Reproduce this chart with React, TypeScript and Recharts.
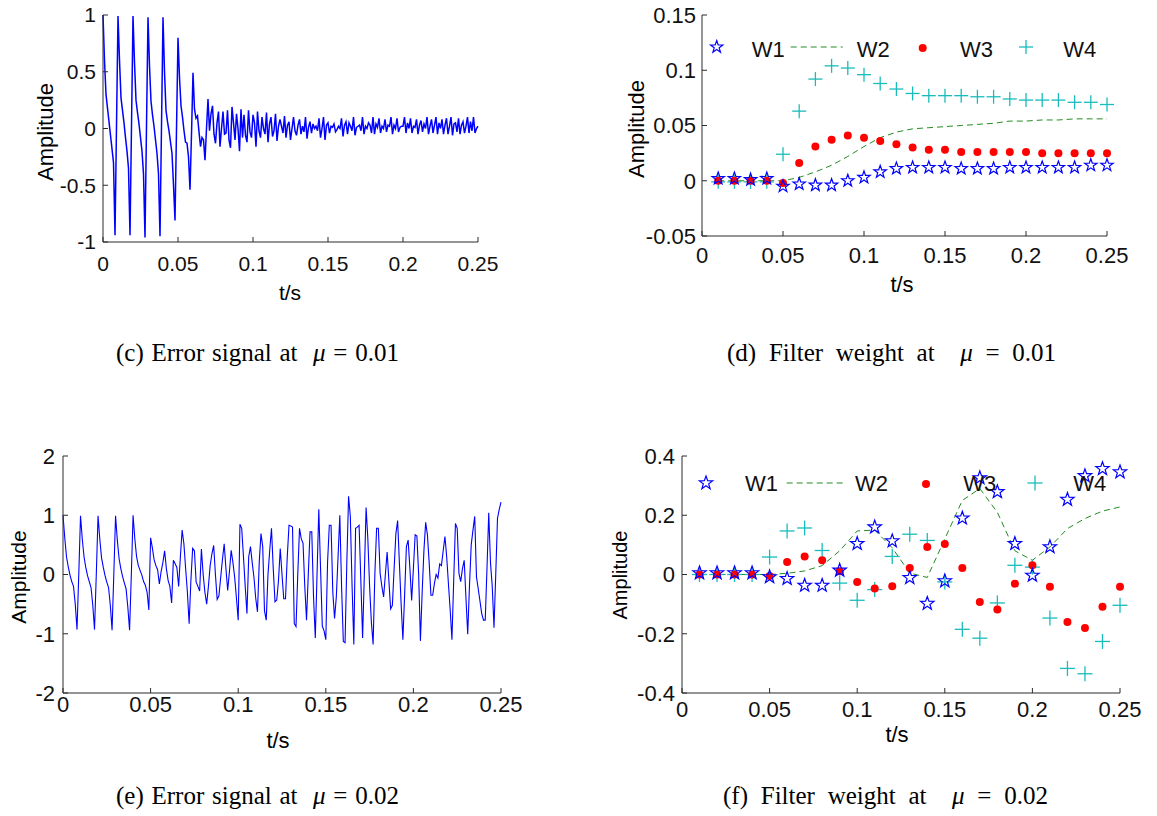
import React from 'react';
import { LineChart, Line, ComposedChart, Scatter, XAxis, YAxis } from 'recharts';

// error signals are sampled at 1 kHz, one value per ms from t = 0 to 0.25 s
const FS = 1000;

// (c) error signal, mu = 0.01
const ERR_C = [
  1.0, 0.6, 0.3, 0.18, 0.06, -0.06, -0.18, -0.3, -0.94, 0.02,
  0.99, 0.6, 0.27, 0.16, 0.05, -0.08, -0.2, -0.35, -0.94, 0.02,
  0.99, 0.58, 0.25, 0.14, 0.04, -0.08, -0.2, -0.4, -0.96, 0.02,
  0.98, 0.55, 0.24, 0.12, 0.02, -0.1, -0.22, -0.4, -0.95, 0.02,
  0.98, 0.5, 0.16, 0.06, -0.02, -0.12, -0.22, -0.5, -0.81, -0.01,
  0.8, 0.45, 0.2, 0.1, -0.02, -0.12, -0.13, -0.25, -0.54, -0.05,
  0.49, 0.17, 0.09, 0.11, -0.03, -0.16, -0.08, -0.1, -0.28, 0.0,
  0.26, -0.02, 0.13, 0.2, -0.05, -0.13, 0.05, 0.15, -0.16, 0.0,
  0.15, -0.05, -0.04, 0.16, -0.1, -0.17, 0.19, 0.05, -0.1, 0.13,
  0.0, -0.2, 0.17, -0.08, 0.12, -0.06, -0.12, 0.16, -0.03, -0.08,
  0.12, 0.05, -0.16, 0.15, -0.02, -0.08, 0.1, 0.0, -0.05, 0.14,
  -0.12, 0.04, 0.1, -0.07, -0.02, 0.13, -0.11, 0.02, 0.08, 0.02,
  -0.04, 0.11, -0.08, 0.03, 0.06, -0.1, 0.0, 0.1, -0.02, -0.06,
  0.03, 0.08, -0.05, 0.02, -0.03, 0.1, -0.09, 0.01, 0.06, -0.04,
  0.04, 0.0, 0.02, -0.02, 0.09, -0.08, 0.0, 0.1, -0.1, 0.03,
  0.05, -0.04, 0.02, 0.01, 0.04, -0.03, -0.01, 0.02, 0.0, 0.09,
  -0.07, 0.03, 0.06, -0.05, 0.05, 0.02, -0.02, 0.1, -0.06, 0.01,
  0.02, 0.03, -0.02, 0.1, -0.05, 0.02, 0.0, 0.05, 0.03, -0.04,
  0.1, -0.05, 0.04, 0.01, 0.09, -0.04, 0.02, 0.0, 0.08, -0.03,
  0.03, 0.02, 0.1, -0.05, 0.03, 0.0, 0.09, -0.03, 0.01, 0.02,
  0.02, 0.1, -0.04, 0.05, 0.0, 0.09, -0.04, 0.02, 0.01, 0.08,
  -0.05, 0.03, 0.07, -0.03, 0.04, 0.0, 0.1, -0.05, 0.02, 0.08,
  -0.04, 0.03, 0.1, -0.05, 0.05, 0.0, 0.08, -0.05, 0.03, 0.09,
  -0.05, 0.02, 0.1, -0.06, 0.04, 0.05, -0.03, 0.09, -0.05, 0.03,
  0.06, -0.04, 0.02, 0.1, -0.04, 0.06, -0.02, 0.1, -0.04, 0.0,
  0.02,
];

// (e) error signal, mu = 0.02
const ERR_E = [
  1.0, 0.62, 0.3, 0.13, -0.01, -0.12, -0.2, -0.5, -0.93, 0.0,
  0.99, 0.6, 0.3, 0.12, -0.02, -0.12, -0.22, -0.52, -0.93, 0.0,
  0.99, 0.6, 0.28, 0.12, -0.02, -0.13, -0.22, -0.52, -0.94, 0.0,
  0.99, 0.58, 0.27, 0.1, -0.03, -0.14, -0.24, -0.55, -0.94, 0.0,
  1.0, 0.6, 0.3, 0.15, 0.07, -0.01, -0.12, -0.18, -0.3, -0.6,
  0.62, 0.45, 0.25, 0.15, 0.08, -0.16, 0.05, 0.2, 0.4, 0.1,
  -0.1, -0.2, -0.48, 0.24, 0.18, 0.12, -0.2, 0.3, 0.75, 0.52,
  0.1, -0.3, -0.83, -0.1, 0.44, 0.4, -0.13, -0.2, -0.28, 0.43,
  0.0, -0.3, -0.5, -0.2, 0.15, 0.35, 0.49, 0.0, -0.42, -0.36,
  -0.05, 0.25, 0.52, 0.1, -0.27, 0.05, 0.41, 0.2, -0.05, -0.4,
  -0.77, 0.85, 0.78, 0.3, -0.2, -0.66, 0.3, 0.47, 0.2, -0.05,
  -0.4, -0.63, 0.2, 0.69, 0.47, -0.61, -0.77, 0.0, 0.41, 0.78,
  0.1, -0.46, -0.43, -0.1, 0.44, 0.0, -0.41, -0.41, 0.3, 0.83,
  0.82, 0.8, -0.83, -0.88, 0.0, 0.78, 0.6, 0.53, -0.2, -0.77,
  0.0, 0.72, 0.72, -0.38, -1.07, 0.0, 1.1, 0.1, -0.87, -0.95,
  -1.1, 0.2, 0.83, 0.83, -0.3, -0.74, -0.38, 0.3, 1.0, -0.2,
  -1.13, -1.15, 0.2, 1.32, 0.98, -0.2, -1.18, 0.78, 0.8, 0.83,
  -0.1, -1.07, 0.0, 1.13, 0.6, -0.2, -0.8, -1.18, 0.0, 0.78,
  0.78, 0.02, -0.2, -0.38, 0.0, 0.38, -0.1, -0.58, -0.52, 0.1,
  0.69, 0.91, 0.2, -0.5, -1.1, -0.34, 0.47, 0.58, 0.1, -0.44,
  0.1, 0.67, 0.65, 0.0, -1.12, -0.3, 0.4, 0.88, 0.67, 0.2,
  -0.35, -0.35, -0.15, 0.0, -0.06, 0.18, 0.15, 0.4, 0.64, 0.3,
  -0.16, -0.6, -1.1, -0.1, 0.86, 0.78, 0.02, -0.12, 0.1, 0.24,
  -0.4, -1.01, -0.2, 0.5, 0.75, 0.98, -0.04, -0.24, -0.45, -0.66,
  -0.77, -0.77, 0.1, 1.04, 0.2, -0.2, -0.9, 0.0, 0.95, 1.1,
  1.22,
];

// filter weights, one value every 10 ms
const W_TIMES = [
  0.01, 0.02, 0.03, 0.04, 0.05, 0.06, 0.07, 0.08, 0.09, 0.1,
  0.11, 0.12, 0.13, 0.14, 0.15, 0.16, 0.17, 0.18, 0.19, 0.2,
  0.21, 0.22, 0.23, 0.24, 0.25,
];

// (d) mu = 0.01
const W1_D = [0.002, 0.002, 0.001, 0.002, -0.005, -0.003, -0.004, -0.004, 0.0, 0.003, 0.008, 0.011, 0.012, 0.012, 0.012, 0.011, 0.011, 0.011, 0.012, 0.012, 0.012, 0.012, 0.012, 0.014, 0.014];
const W2_D = [0, 0, 0, 0, 0, 0.003, 0.008, 0.014, 0.022, 0.031, 0.039, 0.044, 0.047, 0.048, 0.049, 0.05, 0.051, 0.052, 0.054, 0.054, 0.055, 0.055, 0.056, 0.056, 0.056];
const W3_D = [0, 0, 0, 0, -0.002, 0.016, 0.031, 0.037, 0.041, 0.039, 0.036, 0.033, 0.03, 0.028, 0.028, 0.026, 0.026, 0.026, 0.026, 0.026, 0.025, 0.025, 0.025, 0.025, 0.025];
const W4_D = [-0.001, -0.001, -0.001, -0.001, 0.024, 0.063, 0.092, 0.104, 0.102, 0.096, 0.088, 0.083, 0.079, 0.077, 0.077, 0.077, 0.076, 0.076, 0.074, 0.073, 0.073, 0.073, 0.071, 0.071, 0.069];

// (f) mu = 0.02
const W1_F = [0.005, 0.005, 0.005, 0.005, -0.008, -0.014, -0.037, -0.037, 0.014, 0.104, 0.16, 0.113, -0.011, -0.098, -0.022, 0.19, 0.326, 0.279, 0.104, -0.003, 0.093, 0.253, 0.333, 0.357, 0.346];
const W2_F = [0, 0, 0, 0, 0, 0.004, 0.012, 0.03, 0.08, 0.147, 0.15, 0.09, 0.005, -0.01, 0.12, 0.25, 0.29, 0.21, 0.08, 0.048, 0.093, 0.155, 0.189, 0.214, 0.228];
const W3_F = [0, 0, 0, 0, -0.005, 0.042, 0.061, 0.048, 0.011, -0.025, -0.047, -0.04, 0.022, 0.093, 0.103, 0.022, -0.093, -0.118, -0.031, 0.031, -0.041, -0.16, -0.181, -0.109, -0.041];
const W4_F = [0, 0, 0, 0, 0.059, 0.147, 0.157, 0.081, -0.029, -0.087, -0.051, 0.061, 0.136, 0.115, -0.025, -0.185, -0.215, -0.096, 0.031, 0.025, -0.147, -0.317, -0.335, -0.226, -0.104];

const T_TICKS = [0, 0.05, 0.1, 0.15, 0.2, 0.25];
const Y_TICKS_C = [-1, -0.5, 0, 0.5, 1];
const Y_TICKS_D = [-0.05, 0, 0.05, 0.1, 0.15];
const Y_TICKS_E = [-2, -1, 0, 1, 2];
const Y_TICKS_F = [-0.4, -0.2, 0, 0.2, 0.4];

const AXIS = '#2b2b2b';
const NARROW = "'Liberation Sans Narrow', 'Liberation Sans', Arial, sans-serif";
const SANS = "'Liberation Sans', Arial, sans-serif";
const SERIF = "'Liberation Serif', 'Times New Roman', serif";
const BLUE = '#0000ff';
const GREEN = '#228b22';
const RED = '#ff0000';
const CYAN = '#19bcbc';

const fmt = (v: number) => String(v);

const starPoints = (cx: number, cy: number, R: number) => {
  const pts: string[] = [];
  for (let i = 0; i < 10; i++) {
    const a = -Math.PI / 2 + (i * Math.PI) / 5;
    const rr = i % 2 === 0 ? R : R * 0.4;
    pts.push(`${cx + rr * Math.cos(a)},${cy + rr * Math.sin(a)}`);
  }
  return pts.join(' ');
};

const Star = ({ cx, cy, R }: any) => (
  <polygon points={starPoints(cx, cy, R)} fill="none" stroke={BLUE} strokeWidth={1.2} />
);
const Plus = ({ cx, cy, R }: any) => (
  <g stroke={CYAN} strokeWidth={1.3}>
    <line x1={cx - R} y1={cy} x2={cx + R} y2={cy} />
    <line x1={cx} y1={cy - R} x2={cx} y2={cy + R} />
  </g>
);
const Dot = ({ cx, cy, R }: any) => <circle cx={cx} cy={cy} r={R} fill={RED} />;

type Box = { x: number; y: number; w: number; h: number; mt: number; mr: number; yw: number; xh: number };

function axes(box: Box, yTicks: number[], font: number, xMargin: number, yMargin: number) {
  const tick = { fontSize: font, fontFamily: NARROW, fill: '#111' };
  return [
    <XAxis key="x" type="number" dataKey="t" domain={[0, 0.25]} ticks={T_TICKS} interval={0}
      tickSize={-5} tickMargin={xMargin} height={box.xh} stroke={AXIS} tick={tick} tickFormatter={fmt} />,
    <YAxis key="y" type="number" dataKey="v" domain={[yTicks[0], yTicks[yTicks.length - 1]]} ticks={yTicks} interval={0}
      tickSize={-5} tickMargin={yMargin} width={box.yw} stroke={AXIS} tick={tick} tickFormatter={fmt} />,
  ];
}

function SignalPanel({ box, values, yTicks, font, xMargin, yMargin, lineWidth }: any) {
  const data = values.map((v: number, i: number) => ({ t: i / FS, v }));
  return (
    <div style={{ position: 'absolute', left: box.x, top: box.y }}>
      <LineChart width={box.w} height={box.h} data={data} margin={{ top: box.mt, right: box.mr, bottom: 0, left: 0 }}>
        {axes(box, yTicks, font, xMargin, yMargin)}
        <Line type="linear" dataKey="v" stroke={BLUE} strokeWidth={lineWidth} dot={false} isAnimationActive={false} />
      </LineChart>
    </div>
  );
}

function WeightPanel({ box, w1, w2, w3, w4, yTicks, font, xMargin, yMargin, star, plus, dot }: any) {
  const pts = (arr: number[]) => W_TIMES.map((t, i) => ({ t, v: arr[i] }));
  return (
    <div style={{ position: 'absolute', left: box.x, top: box.y }}>
      <ComposedChart width={box.w} height={box.h} margin={{ top: box.mt, right: box.mr, bottom: 0, left: 0 }}>
        {axes(box, yTicks, font, xMargin, yMargin)}
        <Line data={pts(w2)} type="linear" dataKey="v" stroke={GREEN} strokeWidth={1} strokeDasharray="6 4"
          dot={false} isAnimationActive={false} />
        <Scatter data={pts(w4)} dataKey="v" isAnimationActive={false} shape={(p: any) => <Plus cx={p.cx} cy={p.cy} R={plus} />} />
        <Scatter data={pts(w3)} dataKey="v" isAnimationActive={false} shape={(p: any) => <Dot cx={p.cx} cy={p.cy} R={dot} />} />
        <Scatter data={pts(w1)} dataKey="v" isAnimationActive={false} shape={(p: any) => <Star cx={p.cx} cy={p.cy} R={star} />} />
      </ComposedChart>
    </div>
  );
}

function LegendRow({ y, base, star, dash, w2, dot, w3, plus, w4, w1, font, R }: any) {
  const txt = { fontSize: font, fontFamily: NARROW, fill: '#111' };
  return (
    <g>
      <Star cx={star} cy={y} R={R.star} />
      <text x={w1} y={base} {...txt}>W1</text>
      <line x1={dash[0]} y1={y} x2={dash[1]} y2={y} stroke={GREEN} strokeWidth={1} strokeDasharray="6 4" />
      <text x={w2} y={base} {...txt}>W2</text>
      <Dot cx={dot} cy={y + 1} R={R.dot} />
      <text x={w3} y={base} {...txt}>W3</text>
      <Plus cx={plus} cy={y} R={R.plus} />
      <text x={w4} y={base} {...txt}>W4</text>
    </g>
  );
}

function Caption({ x, y, head, mu, gap }: any) {
  return (
    <text x={x} y={y} fontSize={25} fontFamily={SERIF} fill="#000" style={{ wordSpacing: gap }}>
      {head}{'\u00a0 '}<tspan fontStyle="italic">μ</tspan>{` = ${mu}`}
    </text>
  );
}

const BOX_C: Box = { x: 0, y: 0, w: 520, h: 300, mt: 15, mr: 42, yw: 103, xh: 58 };
const BOX_D: Box = { x: 600, y: 0, w: 550, h: 300, mt: 15, mr: 43, yw: 102, xh: 64 };
const BOX_E: Box = { x: 0, y: 440, w: 540, h: 320, mt: 16, mr: 39, yw: 63, xh: 67 };
const BOX_F: Box = { x: 600, y: 440, w: 557, h: 320, mt: 16, mr: 37, yw: 82, xh: 67 };

export default function App() {
  return (
    <div style={{ position: 'absolute', left: 0, top: 0, width: 1157, height: 816, background: '#fff', overflow: 'hidden' }}>
      <SignalPanel box={BOX_C} values={ERR_C} yTicks={Y_TICKS_C} font={21} xMargin={19} yMargin={12} lineWidth={1.5} />
      <WeightPanel box={BOX_D} w1={W1_D} w2={W2_D} w3={W3_D} w4={W4_D} yTicks={Y_TICKS_D} font={22}
        xMargin={16} yMargin={11} star={6.5} plus={7} dot={4} />
      <SignalPanel box={BOX_E} values={ERR_E} yTicks={Y_TICKS_E} font={22} xMargin={8} yMargin={13} lineWidth={1.1} />
      <WeightPanel box={BOX_F} w1={W1_F} w2={W2_F} w3={W3_F} w4={W4_F} yTicks={Y_TICKS_F} font={22}
        xMargin={13} yMargin={12} star={7} plus={7.5} dot={4} />

      <svg width={1157} height={816} style={{ position: 'absolute', left: 0, top: 0, pointerEvents: 'none' }}>
        {/* axis titles */}
        <text x={290} y={300} textAnchor="middle" fontSize={21} fontFamily={NARROW}>t/s</text>
        <text x={902} y={292} textAnchor="middle" fontSize={22} fontFamily={NARROW}>t/s</text>
        <text x={278} y={748} textAnchor="middle" fontSize={22} fontFamily={NARROW}>t/s</text>
        <text x={897} y={742} textAnchor="middle" fontSize={22} fontFamily={NARROW}>t/s</text>
        <text transform="translate(53,132) rotate(-90)" textAnchor="middle" fontSize={22} fontFamily={SANS}>Amplitude</text>
        <text transform="translate(644,129) rotate(-90)" textAnchor="middle" fontSize={22} fontFamily={SANS}>Amplitude</text>
        <text transform="translate(26,577) rotate(-90)" textAnchor="middle" fontSize={21} fontFamily={SANS}>Amplitude</text>
        <text transform="translate(627,575) rotate(-90)" textAnchor="middle" fontSize={20} fontFamily={SANS}>Amplitude</text>

        {/* legends */}
        <LegendRow y={47} base={56.7} star={716.7} w1={751.7} dash={[790.7, 842.7]} w2={856.7} dot={922.7} w3={960}
          plus={1026} w4={1063.3} font={22} R={{ star: 6.5, plus: 7, dot: 4 }} />
        <LegendRow y={483} base={491} star={706} w1={745} dash={[786.7, 846.7]} w2={855} dot={926} w3={963.3}
          plus={1035} w4={1073.3} font={22} R={{ star: 7, plus: 7.5, dot: 4 }} />

        {/* captions */}
        <Caption x={116} y={361} head="(c) Error signal at" mu="0.01" gap={1.5} />
        <Caption x={727} y={361} head="(d) Filter weight at" mu="0.01" gap={6.5} />
        <Caption x={116} y={804} head="(e) Error signal at" mu="0.02" gap={1.5} />
        <Caption x={723} y={804} head="(f) Filter weight at" mu="0.02" gap={6.5} />
      </svg>
    </div>
  );
}
